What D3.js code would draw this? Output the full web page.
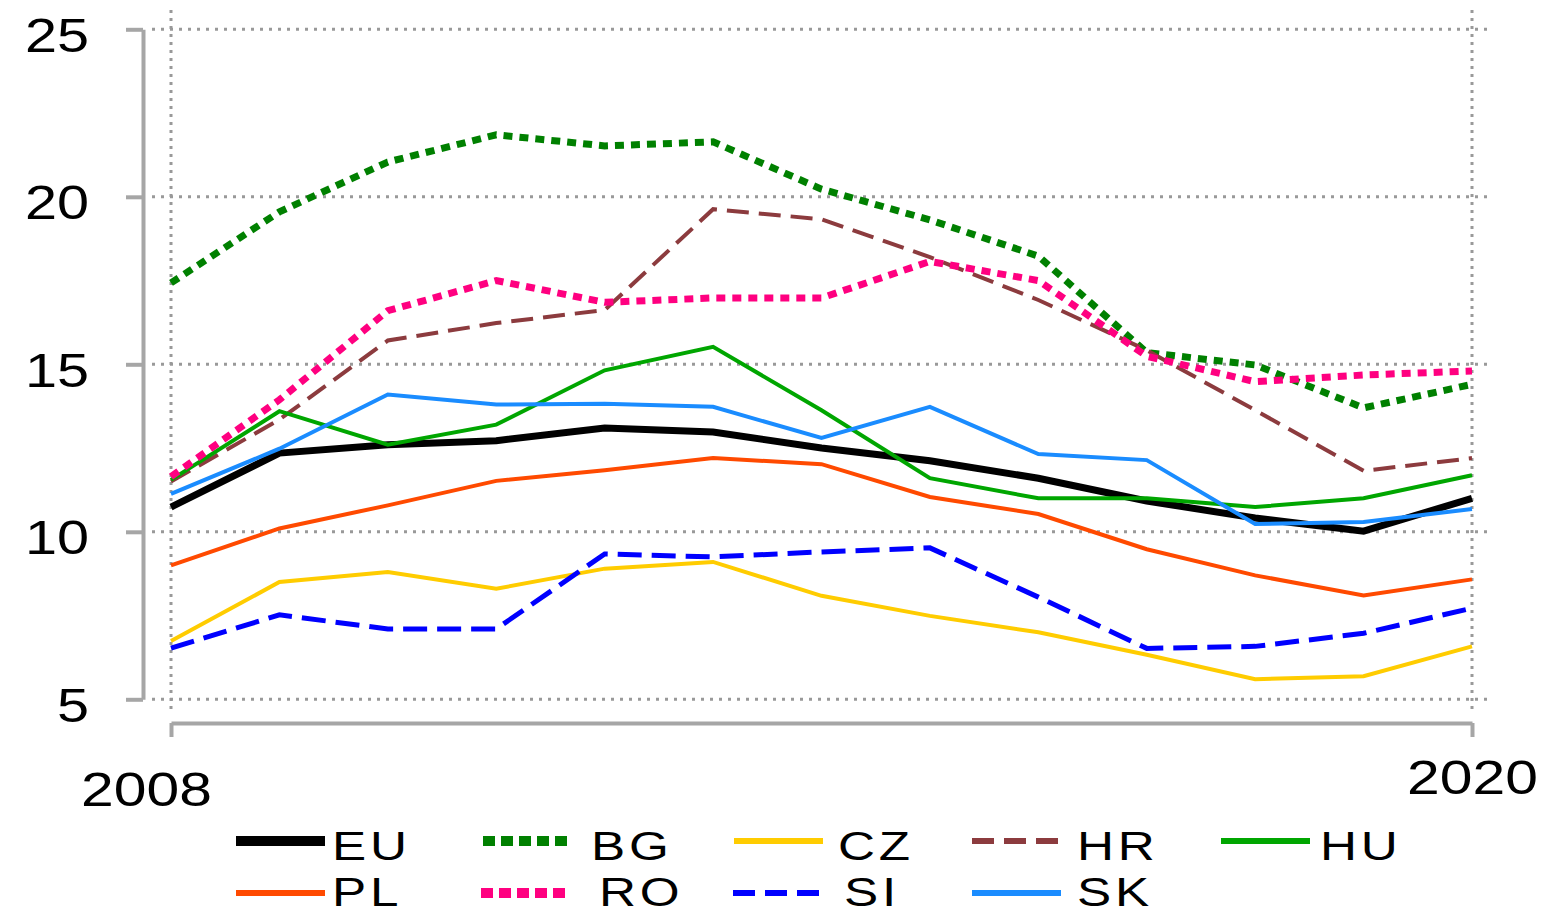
<!DOCTYPE html>
<html>
<head>
<meta charset="utf-8">
<script src="https://cdn.jsdelivr.net/npm/d3@7"></script>
<style>
  body { margin: 0; background: #fff; }
  text { font-family: "Liberation Sans", Arial, sans-serif; fill: #000; }
</style>
</head>
<body>
<div id="chart"></div>
<script>
// data
var years = [2008, 2009, 2010, 2011, 2012, 2013, 2014, 2015, 2016, 2017, 2018, 2019, 2020];
var EU = [10.74, 12.35, 12.6, 12.72, 13.1, 12.98, 12.5, 12.12, 11.6, 10.92, 10.41, 10.02, 11.0];
var BG = [17.43, 19.55, 21.04, 21.85, 21.52, 21.64, 20.23, 19.31, 18.23, 15.35, 14.98, 13.7, 14.4];
var CZ = [6.74, 8.5, 8.8, 8.3, 8.9, 9.1, 8.09, 7.49, 7.0, 6.33, 5.6, 5.69, 6.58];
var HR = [11.5, 13.35, 15.71, 16.23, 16.62, 19.63, 19.33, 18.2, 16.92, 15.42, 13.63, 11.82, 12.2];
var HU = [11.55, 13.6, 12.6, 13.2, 14.82, 15.52, 13.63, 11.6, 11.0, 11.0, 10.74, 11.0, 11.69];
var PL = [9.0, 10.1, 10.79, 11.52, 11.84, 12.2, 12.02, 11.04, 10.53, 9.48, 8.7, 8.1, 8.58];
var RO = [11.65, 13.94, 16.6, 17.5, 16.85, 16.98, 16.98, 18.07, 17.5, 15.24, 14.48, 14.68, 14.8];
var SI = [6.53, 7.52, 7.1, 7.1, 9.34, 9.25, 9.4, 9.52, 8.05, 6.52, 6.58, 6.97, 7.72];
var SK = [11.13, 12.48, 14.1, 13.8, 13.82, 13.73, 12.8, 13.73, 12.32, 12.14, 10.23, 10.29, 10.68];

var names = ["EU", "BG", "CZ", "HR", "HU", "PL", "RO", "SI", "SK"];
var seriesValues = [EU, BG, CZ, HR, HU, PL, RO, SI, SK];
var yTicks = [5, 10, 15, 20, 25];
var xTicks = [2008, 2020];

// look of each series
var styles = {
  EU: { color: "#000000", width: 7, dash: null,   lw: 10, ldash: null },
  BG: { color: "#008000", width: 7, dash: "9,7",  lw: 10, ldash: "12,6" },
  CZ: { color: "#ffcc00", width: 4, dash: null,   lw: 6,  ldash: null },
  HR: { color: "#8c3b3e", width: 4, dash: "22,10", lw: 6, ldash: "22,10" },
  HU: { color: "#00a600", width: 4, dash: null,   lw: 6,  ldash: null },
  PL: { color: "#ff4a00", width: 4, dash: null,   lw: 6,  ldash: null },
  RO: { color: "#ff0080", width: 7, dash: "9,7",  lw: 10, ldash: "12,6" },
  SI: { color: "#0000ff", width: 5, dash: "24,10", lw: 6, ldash: "22,10" },
  SK: { color: "#1a8cff", width: 4, dash: null,   lw: 6,  ldash: null }
};

var w = 1547;
var h = 915;

var x = d3.scaleLinear().domain([2008, 2020]).range([171, 1472]);
var y = d3.scaleLinear().domain([5, 25]).range([699.3, 29.3]);

var svg = d3.select("#chart")
            .append("svg")
            .attr("width", w)
            .attr("height", h);

// dotted grid
svg.append("g")
   .selectAll("line")
   .data(yTicks)
   .enter()
   .append("line")
   .attr("x1", 152)
   .attr("x2", 1493)
   .attr("y1", function(d) { return y(d); })
   .attr("y2", function(d) { return y(d); })
   .attr("stroke", "#999")
   .attr("stroke-width", 3)
   .attr("stroke-dasharray", "3,6");

svg.append("g")
   .selectAll("line")
   .data(xTicks)
   .enter()
   .append("line")
   .attr("x1", function(d) { return x(d); })
   .attr("x2", function(d) { return x(d); })
   .attr("y1", 10)
   .attr("y2", 714)
   .attr("stroke", "#999")
   .attr("stroke-width", 3)
   .attr("stroke-dasharray", "3,5");

// y axis
var yAxis = d3.axisLeft(y)
              .tickValues(yTicks)
              .tickSize(17)
              .tickSizeOuter(0);

var gy = svg.append("g")
   .attr("transform", "translate(143,0)")
   .call(yAxis);

gy.select(".domain").attr("stroke", "#a6a6a6").attr("stroke-width", 4);
gy.selectAll(".tick line").attr("stroke", "#a6a6a6").attr("stroke-width", 4);
gy.selectAll(".tick text")
  .attr("x", 0)
  .attr("dy", null)
  .attr("text-anchor", "end")
  .attr("font-size", 48)
  .attr("font-family", null)
  .attr("fill", "#000")
  .attr("transform", "translate(-54,22) scale(1.2,1)");

// x axis
var xAxis = d3.axisBottom(x)
              .tickValues(xTicks)
              .tickFormat(d3.format("d"))
              .tickSize(14)
              .tickSizeOuter(0);

var gx = svg.append("g")
   .attr("transform", "translate(0,723)")
   .call(xAxis);

gx.select(".domain").attr("stroke", "#a6a6a6").attr("stroke-width", 4);
gx.selectAll(".tick line").attr("stroke", "#a6a6a6").attr("stroke-width", 4);
gx.selectAll(".tick text")
  .attr("y", 0)
  .attr("dy", null)
  .attr("text-anchor", "middle")
  .attr("font-size", 49)
  .attr("font-family", null)
  .attr("fill", "#000")
  .attr("transform", function(d) {
    return d === 2008 ? "translate(-25,83) scale(1.2,1)" : "translate(0,71) scale(1.2,1)";
  });

// lines
var line = d3.line()
             .x(function(d, i) { return x(years[i]); })
             .y(function(d) { return y(d); });

svg.append("g")
   .selectAll("path")
   .data(names)
   .enter()
   .append("path")
   .attr("d", function(d, i) { return line(seriesValues[i]); })
   .attr("fill", "none")
   .attr("stroke", function(d) { return styles[d].color; })
   .attr("stroke-width", function(d) { return styles[d].width; })
   .attr("stroke-dasharray", function(d) { return styles[d].dash; })
   .attr("stroke-linejoin", "miter");

// legend, two rows
var legCols = [236, 483, 734, 972, 1221, 236, 481, 733, 972];
var legRows = [0, 0, 0, 0, 0, 1, 1, 1, 1];
var legTextDx = [96, 108, 104, 105, 99, 96, 118, 111, 105];
var rowLineY = [841, 893];
var rowTextY = [860, 906];

var leg = svg.append("g")
   .selectAll("g")
   .data(names)
   .enter()
   .append("g");

leg.append("line")
   .attr("x1", function(d, i) { return legCols[i]; })
   .attr("x2", function(d, i) { return legCols[i] + 89; })
   .attr("y1", function(d, i) { return rowLineY[legRows[i]]; })
   .attr("y2", function(d, i) { return rowLineY[legRows[i]]; })
   .attr("stroke", function(d) { return styles[d].color; })
   .attr("stroke-width", function(d) { return styles[d].lw; })
   .attr("stroke-dasharray", function(d) { return styles[d].ldash; });

leg.append("text")
   .attr("transform", function(d, i) {
     return "translate(" + (legCols[i] + legTextDx[i]) + "," + rowTextY[legRows[i]] + ") scale(1.25,1)";
   })
   .attr("font-size", 41)
   .attr("letter-spacing", 3)
   .text(function(d) { return d; });
</script>
</body>
</html>
